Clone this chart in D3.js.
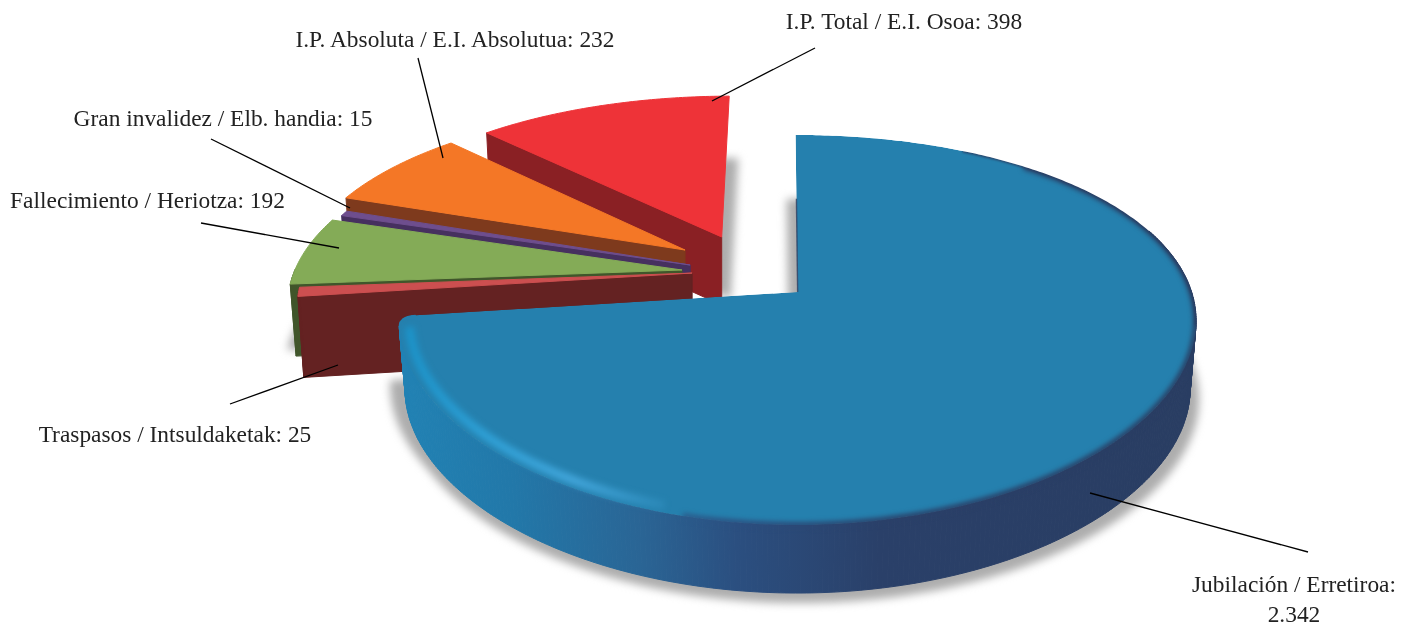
<!DOCTYPE html>
<html><head><meta charset="utf-8">
<script src="https://cdn.jsdelivr.net/npm/d3@7"></script>
<style>html,body{margin:0;padding:0;background:#fff}svg{display:block}</style>
</head><body><svg id="c" width="1414" height="627"></svg>
<script>
const categories = ["Jubilación / Erretiroa","Traspasos / Intsuldaketak","Fallecimiento / Heriotza","Gran invalidez / Elb. handia","I.P. Absoluta / E.I. Absolutua","I.P. Total / E.I. Osoa"];
const values = [2342,25,192,15,232,398];
const valueLabels = ["2.342","25","192","15","232","398"];
const explodeU = [-.006,-.278,-.305,-.285,-.302,-.208];
const explodeV = [0,-.103,-.12,-.148,-.234,-.311];
const sliceDepth = [68,81,72,68,68,68];
const topColors = ["#2580ae","#cc4f50","#84ab57","#6e4e8e","#f47726","#ee3338"];
const wallColors = ["url(#blueWall)","#642222","#40562b","#46305f","#7e3a1d","#8a2024"];
// label layout: [textX, baseline, anchor, leaderX1, leaderY1, leaderX2, leaderY2]
const labelLayout = [
 [1294,592,"middle",1090,493,1308,552],
 [175,442,"middle",230,404,338,365],
 [147.5,208,"middle",201,223,339,248],
 [223,126,"middle",211,139,350,208],
 [455,47,"middle",418,58,443,158],
 [904,29,"middle",815,48,712,101]
];

const CX=800,CY=292,RX=394,KY=187.6,PY=.195,PX=.15,BOTTOM=.985;
const rot=-0.4*Math.PI/180;
const svg=d3.select("#c");
const defs=svg.append("defs");
function blur(id,s){defs.append("filter").attr("id",id).attr("x","-10%").attr("y","-10%").attr("width","120%").attr("height","120%")
  .attr("color-interpolation-filters","sRGB").append("feGaussianBlur").attr("stdDeviation",s);}
blur("soft",.6);blur("edge",2.6);blur("shadow",4.5);blur("hl",3);blur("rim",1.2);
function grad(id,x1,x2,stops){const g=defs.append("linearGradient").attr("id",id).attr("gradientUnits","userSpaceOnUse")
  .attr("x1",x1).attr("x2",x2).attr("y1",0).attr("y2",0);
  stops.forEach(s=>g.append("stop").attr("offset",s[0]).attr("stop-color",s[1]).attr("stop-opacity",s[2]==null?1:s[2]));}
grad("blueWall",400,1200,[[0,"#2182b4"],[.14,"#2278a9"],[.3,"#2a6595"],[.42,"#2b4f80"],[.6,"#2a4069"],[1,"#293d62"]]);
grad("hlGrad",400,690,[[0,"#1a92c8"],[.3,"#2fa0d6"],[.6,"#42a5da"],[1,"#42a5da",0]]);

function project(u,v,z,ax){
  const sy=1/(1-PY*v), sx=1/(1-PX*v);
  let x=CX+RX*u*sx, y=CY+KY*v*sy;
  if(z){x=ax+(x-ax)*BOTTOM;y+=z;}
  return [x,y];
}
const pie=d3.pie().sort(null).value(d=>d)(values);
function ring(i,r,a0,a1){
  const pts=[],n=Math.max(2,Math.ceil((a1-a0)/0.012));
  d3.range(n+1).forEach(k=>{const a=a0+(a1-a0)*k/n+rot;
    pts.push([explodeU[i]+r*Math.sin(a),explodeV[i]-r*Math.cos(a)]);});
  return pts;
}
const line=d3.line();
function path3(uv){return line(uv.map(p=>project(p[0],p[1],0)));}
const order=d3.range(values.length).reverse();
function outline(i,r){const p=pie[i];return [[explodeU[i],explodeV[i]],...ring(i,r,p.startAngle,p.endAngle)];}
// blue outline with a rounded outer corner at the end of its arc
function blueOutline(){
  const p=pie[0],corner=.05,end=p.endAngle+rot;
  const arc=ring(0,1,p.startAngle,p.endAngle-corner);
  const A=arc[arc.length-1];
  const T=[explodeU[0]+Math.sin(end),explodeV[0]-Math.cos(end)];
  const B=[explodeU[0]+.96*Math.sin(end),explodeV[0]-.96*Math.cos(end)];
  const curve=d3.range(1,9).map(k=>{const t=k/8,s=1-t;
    return [s*s*A[0]+2*s*t*T[0]+t*t*B[0],s*s*A[1]+2*s*t*T[1]+t*t*B[1]];});
  return [[explodeU[0],explodeV[0]],...arc,...curve];
}

// soft shadows
const shadow=svg.append("g").attr("filter","url(#shadow)").attr("fill","#adadad");
shadow.append("path").attr("d",path3(outline(0,1))+"Z").attr("transform","translate(-9,64)");
shadow.append("path").attr("d",path3(outline(0,1))+"Z").attr("transform","translate(3,78)");
shadow.append("path").attr("d",path3(outline(5,1))+"Z").attr("transform","translate(9,62)");
shadow.append("path").attr("d",path3(outline(2,1))+"Z").attr("transform","translate(-3,66)");

const chart=svg.append("g").attr("filter","url(#soft)");
order.forEach(i=>{
  const p=pie[i],g=chart.append("g");
  const pts=i===0?blueOutline():outline(i,1);
  const wall=wallColors[i], dz=sliceDepth[i];
  const ax=project(explodeU[i],explodeV[i],0)[0];
  // only the faces turned to the viewer get a wall: the start radial edge and the front of the arc
  const quads=d3.range(i===0?1:0,pts.length-1).map(k=>{
    const a=pts[k],b=pts[k+1];
    if(k>0){
      const mid=Math.atan2(((a[0]+b[0])/2-explodeU[i]),-((a[1]+b[1])/2-explodeV[i]));
      if(Math.cos(mid)>(i===0?.35:0)) return null;
    }
    const A=project(a[0],a[1],0),B=project(b[0],b[1],0),C=project(b[0],b[1],dz,ax),D=project(a[0],a[1],dz,ax);
    return line([A,B,C,D])+"Z";
  }).filter(Boolean);
  g.selectAll("path.w").data(quads).join("path").attr("class","w").attr("d",d=>d)
   .attr("fill",wall).attr("stroke",wall).attr("stroke-width",1).attr("stroke-linejoin","round");
  if(i===0){
    const clip=defs.append("clipPath").attr("id","blueClip");
    clip.selectAll("path").data(quads).join("path").attr("d",d=>d);
    clip.append("path").attr("d",path3(pts)+"Z");
    const inner=g.append("g").attr("clip-path","url(#blueClip)");
    inner.append("path").attr("d",path3(pts)+"Z").attr("fill",topColors[0]);
    // the wall colour bleeds softly over the front rim of the top
    inner.append("path").attr("d",path3(ring(0,1,.7,3.4))).attr("fill","none")
      .attr("stroke","url(#blueWall)").attr("stroke-width",6).attr("filter","url(#edge)");
    inner.append("path").attr("d",path3(ring(0,.975,3.45,p.endAngle-.06))).attr("fill","none")
      .attr("stroke","url(#hlGrad)").attr("stroke-width",9).attr("filter","url(#hl)");
    inner.append("path").attr("d",path3(ring(0,1,.5,1.75))).attr("fill","none")
      .attr("stroke","#293d62").attr("stroke-width",2.5).attr("filter","url(#rim)");
    g.append("path").attr("d",path3(ring(0,.55,0,0).concat([[explodeU[0],explodeV[0]]]))).attr("fill","none")
      .attr("stroke","#293d62").attr("stroke-width",1.4).attr("opacity",.8);
  } else {
    g.append("path").attr("d",path3(pts)+"Z").attr("fill",topColors[i]).attr("stroke",topColors[i]).attr("stroke-width",1).attr("stroke-linejoin","round");
  }
});

// leaders and labels
const ann=svg.append("g").attr("font-family","'Liberation Serif',serif").attr("font-size",23.4).attr("fill","#222");
categories.forEach((c,i)=>{
  const L=labelLayout[i];
  ann.append("line").attr("x1",L[3]).attr("y1",L[4]).attr("x2",L[5]).attr("y2",L[6]).attr("stroke","#000").attr("stroke-width",1.3);
  if(i===0){
    ann.append("text").attr("x",L[0]).attr("y",L[1]).attr("text-anchor",L[2]).text(c+":");
    ann.append("text").attr("x",L[0]).attr("y",L[1]+30).attr("text-anchor",L[2]).text(valueLabels[i]);
  } else {
    ann.append("text").attr("x",L[0]).attr("y",L[1]).attr("text-anchor",L[2]).text(c+": "+valueLabels[i]);
  }
});
</script></body></html>
